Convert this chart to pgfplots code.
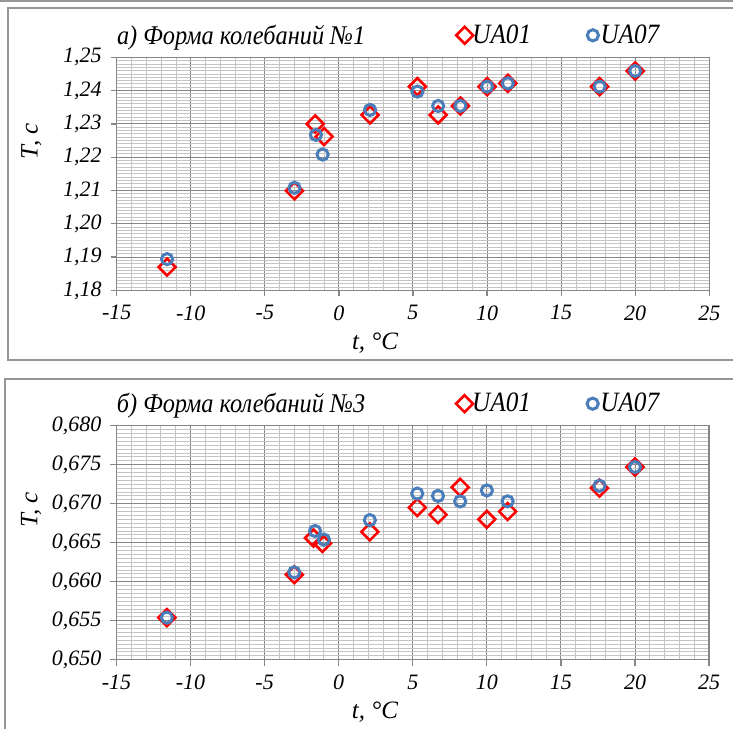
\documentclass[border=0pt]{standalone}
\usepackage{fontspec}
\setmainfont{Liberation Serif}
\newfontfamily\condfont{Liberation Serif}[FakeStretch=0.9]
\usepackage{pgfplots}
\pgfplotsset{compat=1.18}

\definecolor{uared}{RGB}{255,0,0}
\definecolor{uablue}{RGB}{74,126,187}
\definecolor{majgrid}{RGB}{134,134,134}
\definecolor{mingrid}{RGB}{196,196,196}
\definecolor{framegray}{RGB}{150,150,150}

\pgfplotstableread{
t     T
-11.6 1.1870
-3.0  1.2099
-1.6  1.2300
-1.0  1.2262
2.1   1.2327
5.3   1.2412
6.7   1.2327
8.2   1.2354
10.0  1.2412
11.4  1.2422
17.6  1.2412
20.0  1.2459
}\topA
\pgfplotstableread{
t     T
-11.6 1.1894
-3.0  1.2108
-1.55 1.2267
-1.1  1.2208
2.1   1.2342
5.3   1.2397
6.7   1.2354
8.2   1.2354
10.0  1.2412
11.4  1.2422
17.6  1.2412
20.0  1.2459
}\topB
\pgfplotstableread{
t     T
-11.6 0.6554
-3.0  0.6609
-1.7  0.6656
-1.1  0.6649
2.1   0.6664
5.3   0.6695
6.7   0.6686
8.2   0.6721
10.0  0.6680
11.4  0.6690
17.6  0.6720
20.0  0.6747
}\botA
\pgfplotstableread{
t     T
-11.6 0.6554
-3.0  0.6612
-1.6  0.6665
-1.0  0.6654
2.1   0.6679
5.3   0.6713
6.7   0.6710
8.2   0.6703
10.0  0.6717
11.4  0.6703
17.6  0.6723
20.0  0.6747
}\botB

\pgfplotsset{
  panel/.style={
    scale only axis,
    anchor=south west,
    width=296.3pt,
    xmin=-15, xmax=25,
    xtick={-15,-10,...,25},
    minor x tick num=4,
    grid=both,
    major grid style={majgrid, line width=0.5pt},
    minor grid style={mingrid, line width=0.45pt},
    axis line style={majgrid, line width=0.6pt},
    tick style={majgrid, line width=0.6pt},
    tick align=outside,
    major tick length=3pt,
    minor tick length=0pt,
    xtick pos=lower, ytick pos=left,
    ticklabel style={font=\fontsize{11}{12}\selectfont\itshape},
    /pgf/number format/assume math mode=true,
    /pgf/number format/use comma,
    /pgf/number format/fixed,
    /pgf/number format/fixed zerofill,
    xticklabel style={/pgf/number format/precision=0, yshift=-1pt},
    yticklabel style={xshift=-1pt},
    xlabel={t, °C},
    ylabel={T, с},
    label style={font=\fontsize{12.5}{14}\selectfont\itshape},
    xlabel style={at={(axis description cs:0.436,-0.15)}, anchor=north},
    ylabel style={at={(axis description cs:-0.115,0.64)}, anchor=south},
    title style={at={(0,1)}, anchor=base west, yshift=0.5pt, inner sep=0pt,
      font=\condfont\fontsize{13.5}{15}\selectfont\itshape},
    legend columns=2,
    legend style={draw=none, fill=none, at={(0.5703,1)}, anchor=west,
      yshift=11pt, font=\condfont\fontsize{14}{15}\selectfont\itshape,
      inner sep=0pt,
      /tikz/every odd column/.append style={column sep=-3pt},
      /tikz/every even column/.append style={column sep=24pt}},
    legend image code/.code={
      \path[draw=none, fill=none] (0cm,-0.1cm) rectangle (0.34cm,0.1cm);
      \draw[#1] plot coordinates {(0.17cm,0cm)};},
    clip=false,
  },
  ua01/.style={only marks, mark=square, mark size=3.0pt,
    mark options={rotate=45, draw=uared, line width=1.3pt, fill=none}},
  ua07/.style={only marks, mark=o, mark size=2.8pt,
    mark options={draw=uablue, line width=1.5pt, fill=none}},
}

\begin{document}
\begin{tikzpicture}
\clip (0,0) rectangle (366.5pt,364pt);
\draw[framegray, line width=0.8pt] (0,363.6pt) -- (366.5pt,363.6pt);
\draw[framegray, line width=1pt] (4pt,184pt) rectangle (372.5pt,360pt);
\draw[framegray, line width=1pt] (2.5pt,-6pt) rectangle (372.5pt,174.5pt);

\begin{axis}[panel,
  at={(58.35pt,218.8pt)}, height=116.55pt,
  ymin=1.18, ymax=1.25, ytick={1.18,1.19,...,1.25},
  minor y tick num=9,
  yticklabel style={/pgf/number format/precision=2},
  title={а) Форма колебаний №1},
]
\addplot[ua01] table[x=t, y=T] {\topA};
\addplot[ua07] table[x=t, y=T] {\topB};
\legend{UA01, UA07}
\end{axis}

\begin{axis}[panel,
  at={(58.25pt,34.15pt)}, height=117pt,
  ymin=0.65, ymax=0.68, ytick={0.650,0.655,...,0.680},
  minor y tick num=9,
  yticklabel style={/pgf/number format/precision=3},
  title={б) Форма колебаний №3},
]
\addplot[ua01] table[x=t, y=T] {\botA};
\addplot[ua07] table[x=t, y=T] {\botB};
\legend{UA01, UA07}
\end{axis}
\end{tikzpicture}
\end{document}
